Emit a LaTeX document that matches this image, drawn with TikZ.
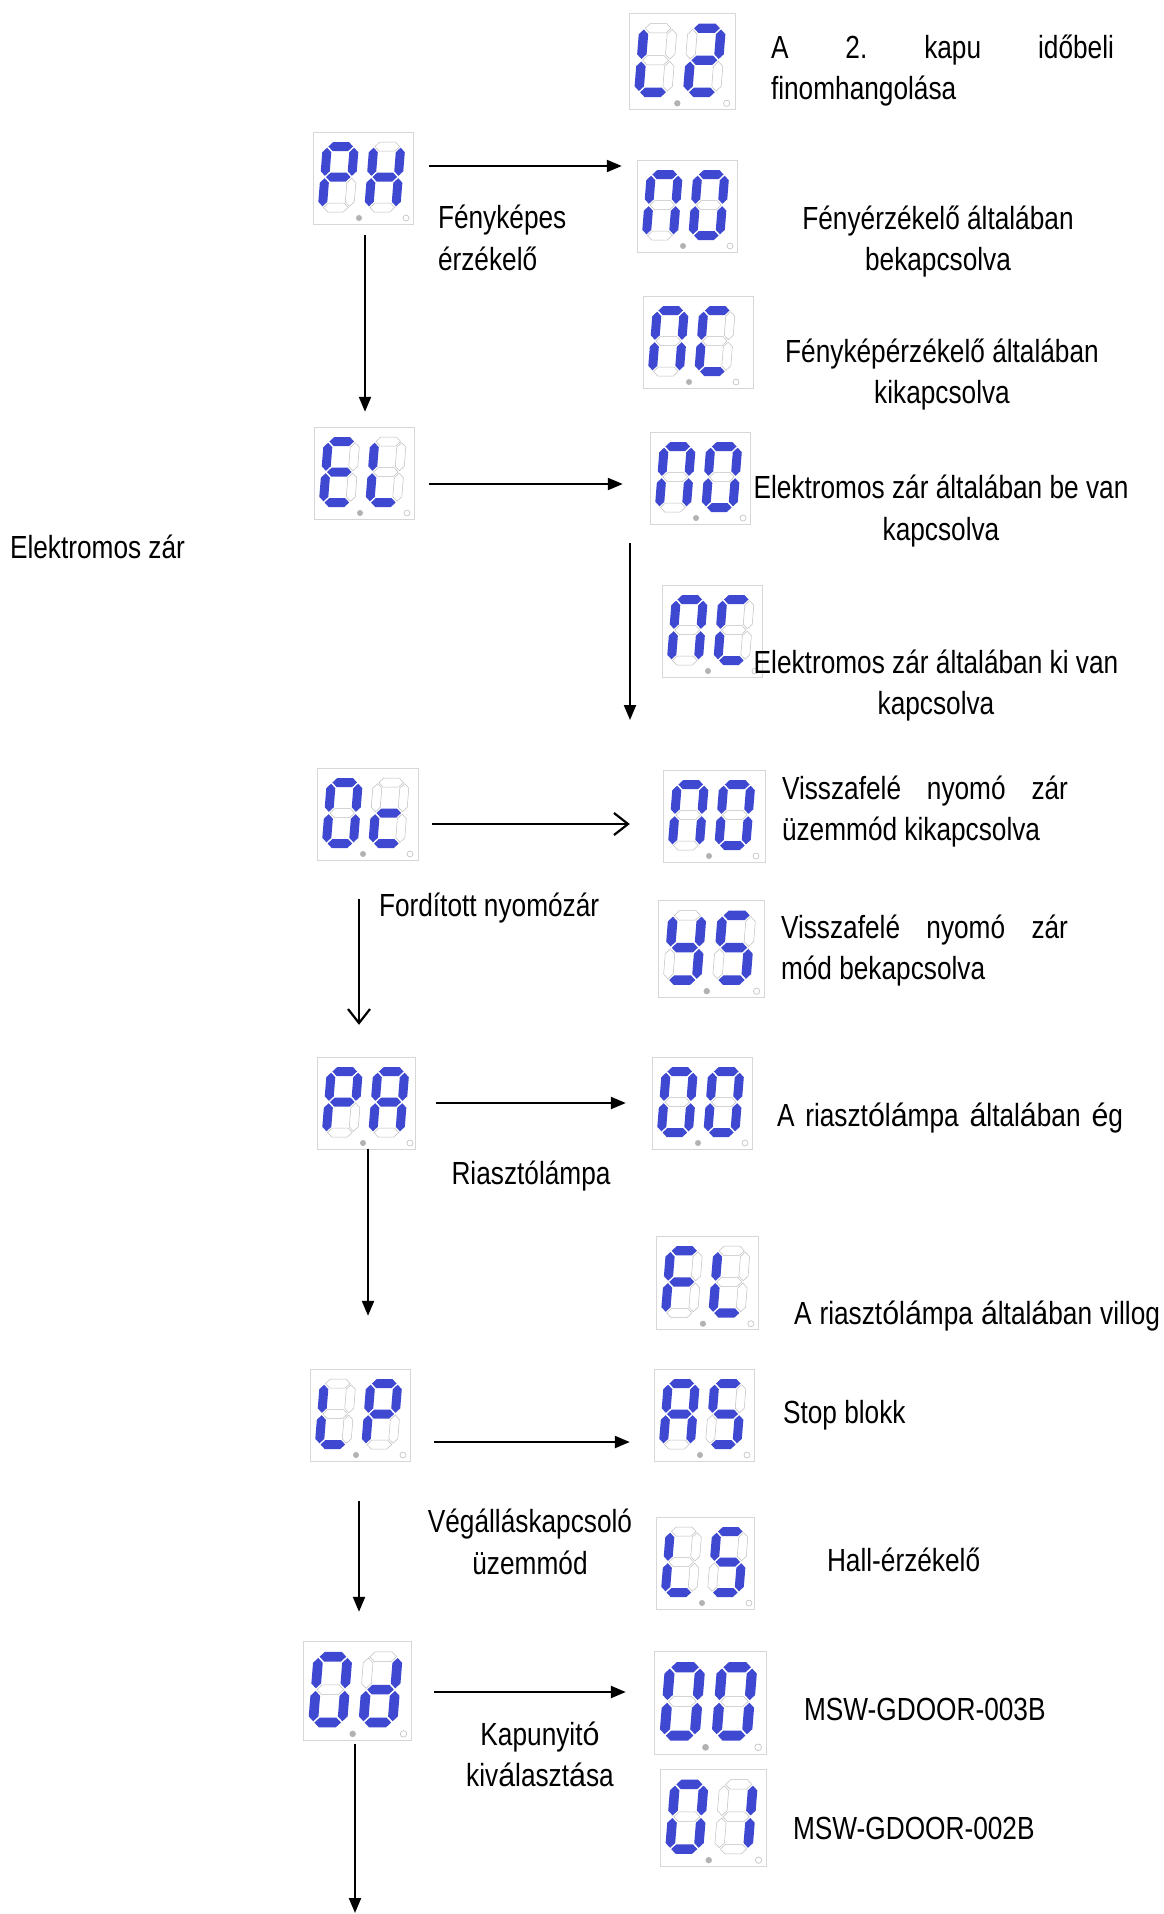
\documentclass[tikz,border=0pt]{standalone}
\usepackage{fontspec}
\setmainfont{Liberation Sans}[FakeStretch=0.82]
\newfontfamily\oddfont{Liberation Sans}[FakeStretch=0.95]
\newcommand\oddg[1]{{\oddfont #1}}
\usetikzlibrary{arrows.meta,fit}
\definecolor{segblue}{RGB}{62,72,208}
\definecolor{segline}{RGB}{190,190,190}
\definecolor{frameline}{RGB}{215,215,215}
\tikzset{
  segon/.style={fill=segblue},
  segoff/.style={draw=segline,line width=0.5pt,fill=white},
  dispframe/.style={draw=frameline,line width=1pt,fill=white},
  dpon/.style={fill=black!30},
  dpoff/.style={draw=black!25,line width=0.6pt,fill=white},
  arr/.style={line width=2.2pt,-{Triangle[length=15pt,width=12pt]}},
  oarr/.style={line width=2.2pt,-{Straight Barb[length=14pt,width=22pt,line width=2.2pt]}},
  lbl/.style={inner sep=0pt,outer sep=0pt},
}
\newcommand\segpath[2]{\ifnum#1=1 \fill[segon] #2 -- cycle;\else\draw[segoff] #2 -- cycle;\fi}
\newcommand\hseg[4]{\segpath{#1}{(#2+1.2,#4) -- (#2+5.7,#4+4.5) -- (#3-5.7,#4+4.5) -- (#3-1.2,#4) -- (#3-5.7,#4-4.5) -- (#2+5.7,#4-4.5)}}
\newcommand\vseg[4]{\segpath{#1}{(#2,#3+1.2) -- (#2+4.5,#3+5.7) -- (#2+4.5,#4-5.7) -- (#2,#4-1.2) -- (#2-4.5,#4-5.7) -- (#2-4.5,#3+5.7)}}
% a b c d e f g
\newcommand\segdigit[7]{%
  \hseg{#1}{4.5}{31.5}{65.5}%
  \vseg{#2}{31.5}{35}{65.5}%
  \vseg{#3}{31.5}{4.5}{35}%
  \hseg{#4}{4.5}{31.5}{4.5}%
  \vseg{#5}{4.5}{4.5}{35}%
  \vseg{#6}{4.5}{35}{65.5}%
  \hseg{#7}{4.5}{31.5}{35}}
% name, x, y, scale, box width, left code, right code
\newcommand\disp[7]{%
  \begin{scope}[shift={(#2,#3)},scale=#4]
    \draw[dispframe] (0,0) rectangle (#5,92);
    \coordinate (#1-nw) at (0,0);
    \coordinate (#1-se) at (#5,92);
    \begin{scope}[shift={(4.5,80)},xslant=0.08,yscale=-1]\segdigit#6\end{scope}
    \begin{scope}[shift={(51,80)},xslant=0.08,yscale=-1]\segdigit#7\end{scope}
    \fill[dpon] (46,86) circle[radius=3];
    \draw[dpoff] (93,86) circle[radius=3];
  \end{scope}
  \node[fit=(#1-nw)(#1-se),inner sep=0pt] (#1) {};}
\begin{document}
\frenchspacing
\begin{tikzpicture}[x=1pt,y=-1pt,font=\fontsize{32}{41.5}\selectfont]
\useasboundingbox[fill=white] (0,0) rectangle (1164,1914);
% displays
\disp{Lt}{629}{13}{1.05}{101}{0001110}{1101101}
\disp{PH}{313}{132}{1}{100}{1100111}{0110111}
\disp{NOa}{637}{160}{1}{100}{1110110}{1111110}
\disp{NCa}{643}{296}{1}{110}{1110110}{1001110}
\disp{EL}{314}{427}{1}{100}{1001111}{0001110}
\disp{NOb}{650}{432}{1}{100}{1110110}{1111110}
\disp{NCb}{662}{585}{1}{100}{1110110}{1001110}
\disp{Oc}{317}{768}{1}{101}{1111110}{0001101}
\disp{NOc}{663}{770}{1}{102}{1110110}{1111110}
\disp{YS}{658}{900}{1.06}{100}{0111011}{1011011}
\disp{PA}{317}{1057}{1}{98}{1100111}{1110111}
\disp{OOa}{652}{1057}{1}{100}{1111110}{1111110}
\disp{FL}{656}{1236}{1.02}{100}{1000111}{0001110}
\disp{LP}{310}{1369}{1}{100}{0001110}{1100111}
\disp{AS}{654}{1369}{1}{100}{1110111}{1011011}
\disp{LS}{656}{1517}{1}{98}{0001110}{1011011}
\disp{Od}{303}{1641}{1.08}{100}{1111110}{0111101}
\disp{OOb}{654}{1651}{1.12}{100}{1111110}{1111110}
\disp{Ob}{660}{1769}{1.06}{100}{1111110}{0110000}
% labels
\node[lbl,anchor=west,align=left] (t1) at (771,70.5) {\makebox[343pt][s]{A 2. kapu időbeli}\\finomhangolása};
\node[lbl,anchor=west,align=left] (t2) at (438,238) {Fényképes\\érzékelő};
\node[lbl,align=center] (t3) at (938,241.5) {Fényérzékelő általában\\bekapcsolva};
\node[lbl,align=center] (t4) at (942,374.5) {Fényképérzékelő általában\\kikapcsolva};
\node[lbl,align=center] (t5) at (941,511) {Elektromos zár általában be van\\kapcsolva};
\node[lbl,anchor=west] (t6) at (10,547) {Elektromos zár};
\node[lbl,align=center] (t7) at (936,685.5) {Elektromos zár általában ki van\\kapcsolva};
\node[lbl,anchor=west,align=left] (t8) at (782,811.5) {\makebox[286pt][s]{Visszafelé nyomó zár}\\üzemmód kikapcsolva};
\node[lbl,anchor=west] (t9) at (379,908) {Fordított nyomózár};
\node[lbl,anchor=west,align=left] (t10) at (781,950.5) {\makebox[287pt][s]{Visszafelé nyomó zár}\\mód bekapcsolva};
\node[lbl,anchor=west] (t11) at (777,1118) {\makebox[346pt][s]{A riaszt\oddg{ó}l\oddg{á}mpa \oddg{á}ltal\oddg{á}ban \oddg{é}g}};
\node[lbl] (t12) at (531,1176) {Riasztólámpa};
\node[lbl,anchor=west] (t13) at (794,1316) {\makebox[366pt][s]{A riaszt\oddg{ó}l\oddg{á}mpa \oddg{á}ltal\oddg{á}ban villog}};
\node[lbl,anchor=west] (t14) at (783,1415) {Stop blokk};
\node[lbl,align=center] (t15) at (530,1542) {Végálláskapcsoló\\üzemmód};
\node[lbl,anchor=west] (t16) at (827,1560) {Hall-érzékelő};
\node[lbl,anchor=west] (t17) at (804,1709) {MSW-GDOOR-003B};
\node[lbl,align=center] (t18) at (540,1754.5) {Kapunyit\oddg{ó}\\kiv\oddg{á}laszt\oddg{á}sa};
\node[lbl,anchor=west] (t19) at (793,1828) {MSW-GDOOR-002B};
% arrow rows / columns
\coordinate (r1) at (0,166);
\coordinate (r3) at (0,484);
\coordinate (r5) at (0,824);
\coordinate (r7) at (0,1103);
\coordinate (r9) at (0,1442);
\coordinate (r11) at (0,1692);
\coordinate (c1) at (365,0);
\coordinate (c5) at (359,0);
\coordinate (c7) at (368,0);
\coordinate (c9) at (359,0);
\coordinate (c11) at (355,0);
\coordinate (fa) at (630,543);
\coordinate (fb) at (630,720);
\coordinate (odend) at (355,1913);
\draw[arr,shorten <=16pt,shorten >=15pt] (PH.east |- r1) -- (NOa.west |- r1);
\draw[arr,shorten <=11pt,shorten >=15pt] (c1 |- PH.south) -- (c1 |- EL.north);
\draw[arr,shorten <=15pt,shorten >=27pt] (EL.east |- r3) -- (NOb.west |- r3);
\draw[arr] (fa) -- (fb);
\draw[oarr,shorten <=14pt,shorten >=33pt] (Oc.east |- r5) -- (NOc.west |- r5);
\draw[oarr,shorten <=39pt,shorten >=32pt] (c5 |- Oc.south) -- (c5 |- PA.north);
\draw[arr,shorten <=21pt,shorten >=26pt] (PA.east |- r7) -- (OOa.west |- r7);
\draw[arr,shorten >=53pt] (c7 |- PA.south) -- (c7 |- LP.north);
\draw[arr,shorten <=24pt,shorten >=24pt] (LP.east |- r9) -- (AS.west |- r9);
\draw[arr,shorten <=40pt,shorten >=29pt] (c9 |- LP.south) -- (c9 |- Od.north);
\draw[arr,shorten <=23pt,shorten >=28pt] (Od.east |- r11) -- (OOb.west |- r11);
\draw[arr,shorten <=3pt] (c11 |- Od.south) -- (odend);
\end{tikzpicture}
\end{document}
